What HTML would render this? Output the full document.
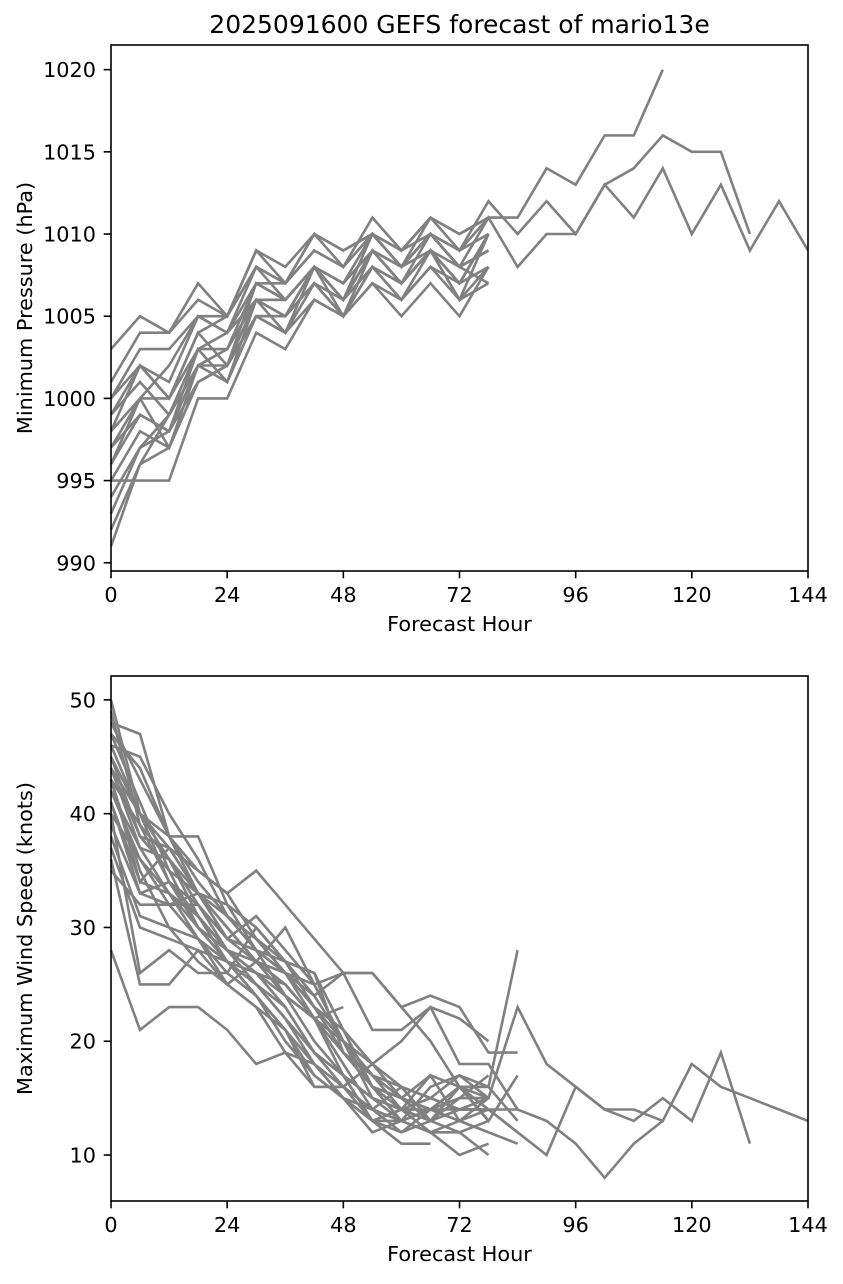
<!DOCTYPE html>
<html><head><meta charset="utf-8"><style>
body{margin:0;background:#fff}
svg text{font-family:"DejaVu Sans","Liberation Sans",sans-serif;fill:#000}
</style></head><body>
<svg id="c" width="843" height="1279" xmlns="http://www.w3.org/2000/svg"></svg>
<script>
const hours=[0,6,12,18,24,30,36,42,48,54,60,66,72,78,84,90,96,102,108,114,120,126,132,138,144];
const xTicks=[0,24,48,72,96,120,144];
const pTicks=[990,995,1000,1005,1010,1015,1020];
const wTicks=[10,20,30,40,50];
const pressureSeries=[
[1003,1005,1004,1007,1005,1009,1008,1010,1009,1010,1009,1011,1010,1011,1011,1014,1013,1016,1016,1020],
[1001,1004,1004,1006,1005,1009,1007,1010,1008,1011,1009,1011,1009,1012,1010,1012,1010,1013,1014,1016,1015,1015,1010],
[999,1002,1001,1005,1004,1008,1007,1009,1008,1010,1008,1010,1008,1011,1008,1010,1010,1013,1011,1014,1010,1013,1009,1012,1009],
[1000,1003,1003,1005,1005,1008,1006,1008,1006,1009,1008,1010,1009,1010],
[998,1002,1000,1004,1002,1007,1006,1008,1006,1010,1008,1009,1007,1010],
[997,1000,1000,1003,1004,1006,1006,1008,1005,1009,1007,1010,1008,1009],
[996,999,998,1002,1002,1006,1005,1007,1006,1008,1007,1009,1006,1008],
[995,998,997,1002,1001,1005,1004,1007,1005,1008,1006,1008,1006,1010],
[995,995,995,1000,1000,1004,1003,1006,1005,1007,1005,1007,1005,1008],
[993,997,998,1001,1002,1005,1005,1008,1006,1009,1007,1009,1006,1007],
[991,996,999,1003,1003,1006,1005,1007,1005,1008,1007,1009,1008,1009],
[992,996,997,1001,1002,1005,1004,1006,1005,1007,1006,1008,1007,1010],
[994,997,999,1002,1003,1007,1006,1008,1007,1010,1008,1010,1009,1011],
[996,1000,1002,1005,1004,1007,1007,1009,1008,1010,1008,1011,1010,1011],
[1000,1002,1000,1004,1005,1008,1007,1010,1009,1010,1009,1010,1008,1009],
[997,999,998,1003,1001,1006,1006,1008,1007,1009,1008,1010,1008,1007],
[999,1001,999,1002,1003,1006,1004,1008,1006,1009,1007,1009,1007,1010],
[998,1000,997,1001,1002,1005,1005,1008,1006,1008,1006,1009,1007,1008]
];
const windSeries=[
[45,38,35,33,29,28,26,24,20,18,16,15,14,15,23,18,16,14,14,13,18,16,15,14,13],
[44,40,36,32,28,27,24,22,19,17,15,14,14,14,12,10,16,14,13,15,13,19,11],
[42,36,33,30,27,25,22,19,17,15,14,13,14,14,14,13,11,8,11,13],
[50,40,37,33,30,27,25,22,20,17,15,14,13,15],
[48,47,38,38,32,30,27,26,21,18,15,13,16,16,28],
[46,45,40,36,31,29,26,25,20,17,14,14,16,13,17],
[28,21,23,23,21,18,19,16,16,18,20,23,22,20],
[36,25,25,28,25,27,30,25,26,26,23,24,23,19,19],
[43,34,37,35,33,35,32,29,26,26,23,20,16,16,13],
[40,26,28,26,26,30,27,24,26,21,21,23,18,18,14],
[47,44,38,33,29,31,28,25,20,16,13,12,13,12,11],
[49,39,36,31,28,26,23,19,16,14,12,13,15,17],
[41,33,32,32,29,28,24,22,20,15,13,14,16,14,12],
[43,35,30,29,27,26,25,22,17,13,11,11],
[38,31,30,27,25,23,21,18,15,14,13,12,10,11],
[45,40,34,30,28,25,22,18,15,12,13,14,13,14],
[42,37,33,29,25,23,19,18,16,13,12,14,15,15],
[44,38,37,33,30,27,25,22,18,14,13,14,16,13],
[47,41,35,30,27,24,20,17,15,13,13,16,17,16],
[39,33,34,31,28,26,24,20,17,13,14,17,13,12],
[46,40,38,34,31,28,26,22,23],
[37,30,29,28,27,25,23,19,17,15,14,12,12,10],
[40,36,32,29,26,24,21,17,15,13,14,15,17,15],
[43,39,34,32,29,27,26,23,21,16,14,13,14,14],
[35,32,32,33,31,29,26,23,19,16,15,17,16,14],
[48,43,38,35,33,29,27,23,20,17,16,13,16,15],
[41,34,33,31,27,24,21,16,16,14,16,15,14,14],
[44,37,36,33,32,28,27,26,19,16,15,13,12,13]
];
const NS='http://www.w3.org/2000/svg';
const svg=document.getElementById('c');
function mk(t,a,p){const e=document.createElementNS(NS,t);for(const k in a)e.setAttribute(k,a[k]);(p||svg).appendChild(e);return e;}
function panel(cfg){
  const g=mk('g',{});
  
  
  const X=h=>cfg.x0+(h-0)/144*(cfg.x1-cfg.x0);
  const Y=v=>cfg.yb+(v-cfg.vmin)/(cfg.vmax-cfg.vmin)*(cfg.yt-cfg.yb);
  cfg.series.forEach((s,i)=>{
    const pts=s.map((v,j)=>X(hours[j]).toFixed(1)+','+Y(v).toFixed(1)).join(' ');
    const pl=mk('polyline',{points:pts,fill:'none',stroke:'#808080','stroke-width':2.6,'stroke-linejoin':'miter'},g);
    
    
  });
  const fr=mk('rect',{x:cfg.x0,y:cfg.yt,width:cfg.x1-cfg.x0,height:cfg.yb-cfg.yt,fill:'none',stroke:'#000','stroke-width':1.6},g);
  
  
  xTicks.forEach(t=>{const x=X(t);mk('line',{x1:x,x2:x,y1:cfg.yb,y2:cfg.yb+7.3,stroke:'#000','stroke-width':1.6},g);
    const tx=mk('text',{x:x,y:cfg.yb+31,'text-anchor':'middle','font-size':20.8},g);tx.textContent=t;
    
    });
  cfg.ticks.forEach(t=>{const y=Y(t);mk('line',{x1:cfg.x0-7.3,x2:cfg.x0,y1:y,y2:y,stroke:'#000','stroke-width':1.6},g);
    const tx=mk('text',{x:cfg.x0-15,y:y+7.5,'text-anchor':'end','font-size':20.8},g);tx.textContent=t;
    
    });
  const xl=mk('text',{x:(cfg.x0+cfg.x1)/2,y:cfg.yb+60,'text-anchor':'middle','font-size':20.8},g);xl.textContent='Forecast Hour';
  
  
  const yc=(cfg.yt+cfg.yb)/2;
  const yl=mk('text',{x:32,y:yc,'text-anchor':'middle','font-size':20.8,transform:'rotate(-90 32 '+yc+')'},g);yl.textContent=cfg.ylabel;
  
  
}
panel({name:'pressure-panel',lname:'pressure',x0:111,x1:808,yt:45,yb:571,vmin:989.5,vmax:1021.5,series:pressureSeries,ticks:pTicks,ylabel:'Minimum Pressure (hPa)'});
panel({name:'wind-panel',lname:'wind',x0:111,x1:808,yt:676,yb:1201,vmin:5.96,vmax:52.1,series:windSeries,ticks:wTicks,ylabel:'Maximum Wind Speed (knots)'});
const t=mk('text',{x:459.5,y:33,'text-anchor':'middle','font-size':25});t.textContent='2025091600 GEFS forecast of mario13e';


</script>
</body></html>
